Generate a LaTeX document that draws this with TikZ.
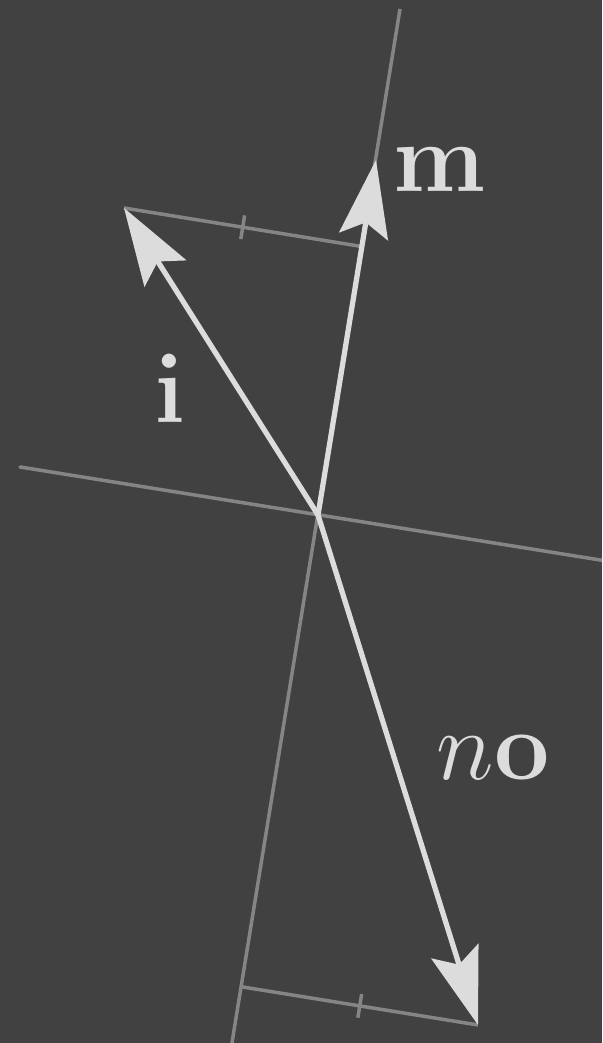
\RequirePackage{fix-cm}
\documentclass[tikz,border=0pt]{standalone}
\usepackage{amsmath,amssymb}
\usepackage{tikz}
\usetikzlibrary{arrows.meta,decorations.markings}

\definecolor{bgcol}{HTML}{414141}
\definecolor{axiscol}{HTML}{858585}
\definecolor{veccol}{HTML}{DCDCDC}

\tikzset{
 axis/.style={draw=axiscol, line width=1pt},
 vec/.style={draw=veccol, line width=1.5pt,
   -{Stealth[length=22pt, width=14pt, inset=4pt]}},
 proj/.style={axis, postaction=decorate,
   decoration={markings, mark=at position 0.5 with {\draw[axiscol, line width=1pt] (0,-0.12) -- (0,0.12);}}},
 lbl/.style={text=veccol, font=\fontsize{28}{34}\selectfont}
}

\begin{document}
\begin{tikzpicture}
 \useasboundingbox (0,0) rectangle (6.02,10.43);
 \clip (0,0) rectangle (6.02,10.43);
 \fill[bgcol] (0,0) rectangle (6.02,10.43);
 \coordinate (O) at (3.18,5.28);
 \coordinate (Ntop) at (4.00,10.34);
 \coordinate (Nbot) at (2.30,-0.12);
 \coordinate (Pl) at (0.20,5.76);
 \coordinate (Pr) at (6.25,4.79);
 \coordinate (I) at (1.24,8.35);
 \coordinate (M) at (3.76,8.83);
 \coordinate (Ot) at (4.78,0.18);
 \coordinate (Fi) at (3.615,7.965);
 \coordinate (Fo) at (2.415,0.562);
 % normal and plane
 \draw[axis] (Nbot) -- (Ntop);
 \draw[axis, line cap=round] (Pl) -- (Pr);
 % projections with equal marks
 \draw[proj] (I) -- (Fi);
 \draw[proj] (Ot) -- (Fo);
 % vectors
 \draw[vec] (O) -- (M);
 \draw[vec] (O) -- (I);
 \draw[vec] (O) -- (Ot);
 \node[lbl] (Lm) at (4.40,8.73) {$\mathbf{m}$};
 \node[lbl] (Li) at (1.70,6.55) {$\mathbf{i}$};
 \node[lbl] (Lo) at (4.93,2.85) {$n\mathbf{o}$};
\end{tikzpicture}
\end{document}
